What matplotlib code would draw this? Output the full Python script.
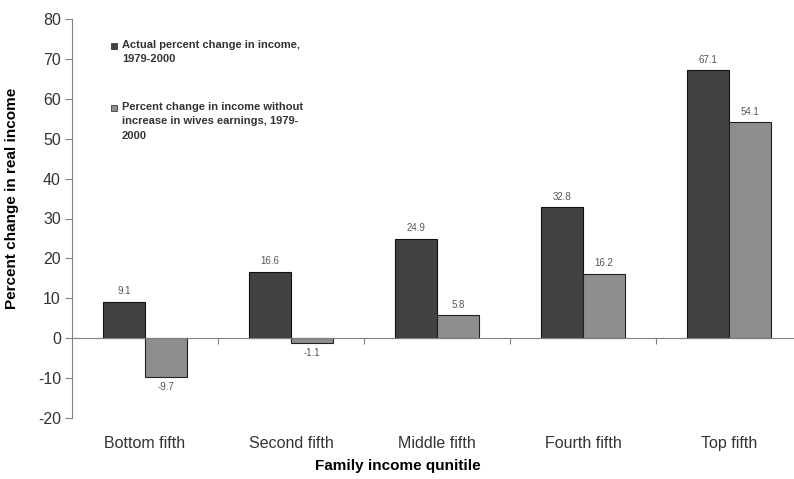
import matplotlib
matplotlib.use("Agg")
import matplotlib.pyplot as plt
import matplotlib.transforms as mtransforms
from matplotlib.patches import Rectangle
import numpy as np

plt.rcParams['font.family'] = ['Liberation Sans', 'DejaVu Sans']
plt.rcParams['axes.unicode_minus'] = False

quintiles = ["Bottom fifth", "Second fifth", "Middle fifth", "Fourth fifth", "Top fifth"]
actual = [9.1, 16.6, 24.9, 32.8, 67.1]
without_wives = [-9.7, -1.1, 5.8, 16.2, 54.1]
legend_labels = ["Actual percent change in income,\n1979-2000",
                 "Percent change in income without\nincrease in wives earnings, 1979-\n2000"]
yticks = [-20, -10, 0, 10, 20, 30, 40, 50, 60, 70, 80]

dark = "#424242"
light = "#8e8e8e"
axis_gray = "#808080"

W, H = 794, 479
fig = plt.figure(figsize=(W / 100, H / 100), dpi=100)
ax = fig.add_axes([72 / W, 1 - 418 / H, 730 / W, (418 - 19) / H])

x = np.arange(len(quintiles))
w = 0.285
b1 = ax.bar(x - w / 2, actual, w, color=dark, edgecolor="#111111", linewidth=0.8)
b2 = ax.bar(x + w / 2, without_wives, w, color=light, edgecolor="#222222", linewidth=0.8)

# value labels
for bars, vals in ((b1, actual), (b2, without_wives)):
    for r, v in zip(bars, vals):
        cx = r.get_x() + r.get_width() / 2
        if v >= 0:
            ax.annotate(f"{v:.1f}", (cx, v), xytext=(0, 4), textcoords="offset points",
                        ha="center", va="bottom", fontsize=7, color="#555555")
        else:
            ax.annotate(f"{v:.1f}", (cx, v), xytext=(0, -4), textcoords="offset points",
                        ha="center", va="top", fontsize=7, color="#555555")

ax.set_ylim(-20, 80)
ax.set_xlim(-0.5, len(quintiles) - 0.5)
ax.set_yticks(yticks)
ax.tick_params(axis="y", labelsize=11.5, length=5, color=axis_gray, pad=3, labelcolor="#333333")

# x axis sits at zero, ticks between categories
ax.spines["bottom"].set_position(("data", 0))
ax.spines["top"].set_visible(False)
ax.spines["right"].set_visible(False)
ax.spines["left"].set_color(axis_gray)
ax.spines["bottom"].set_color(axis_gray)
ax.set_xticks(x[:-1] + 0.5)
ax.set_xticklabels([])
ax.tick_params(axis="x", length=4, color=axis_gray, direction="out")

trans = mtransforms.blended_transform_factory(ax.transData, ax.transAxes)
for i, q in enumerate(quintiles):
    ax.text(i, -0.045, q, transform=trans, ha="center", va="top", fontsize=11.5, color="#333333")

ax.set_ylabel("Percent change in real income", fontsize=11, fontweight="bold")
ax.yaxis.set_label_coords(-0.072, 0.55)
fig.text(398 / W, 1 - 466 / H, "Family income qunitile", ha="center", va="center",
         fontsize=11, fontweight="bold")

# legend drawn by hand
sq = 6
for (ly, lab, col) in ((46, legend_labels[0], dark), (108, legend_labels[1], light)):
    fig.patches.append(Rectangle(((111) / W, 1 - (ly + sq / 2) / H), sq / W, sq / H,
                                 transform=fig.transFigure, facecolor=col,
                                 edgecolor="#222222", linewidth=0.5))
    fig.text(122 / W, 1 - (ly - 6) / H, lab, ha="left", va="top", fontsize=8,
             fontweight="bold", color="#333333", linespacing=1.55)

fig.savefig("out.png", dpi=100)
